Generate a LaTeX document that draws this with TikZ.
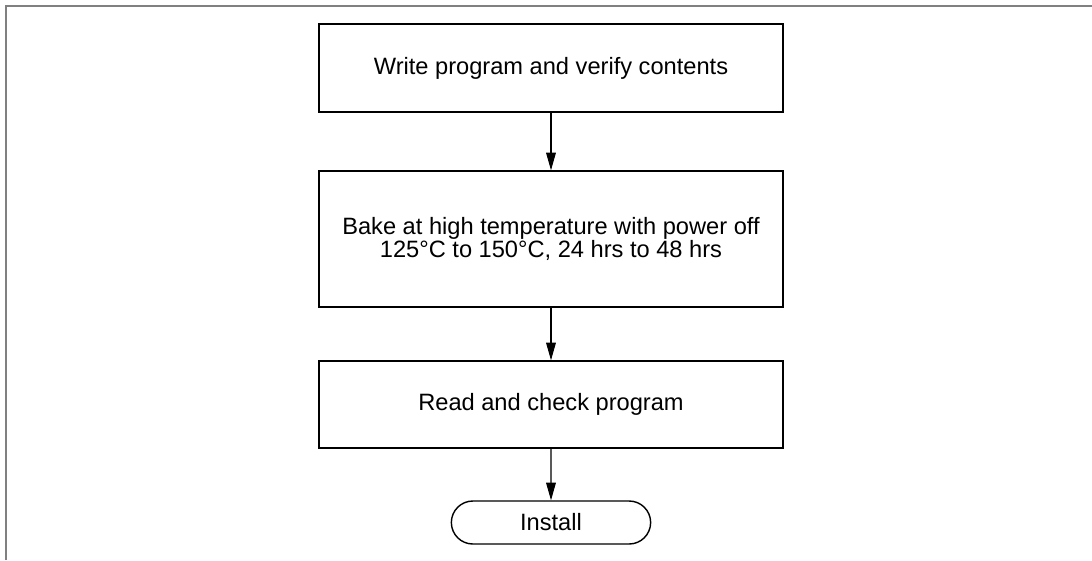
\documentclass[tikz,border=0pt]{standalone}
\usepackage{fontspec}
\setmainfont{Liberation Sans}
\usetikzlibrary{arrows.meta, shapes.misc}

\begin{document}
\begin{tikzpicture}[x=0.2mm,y=-0.2mm,>={Triangle[length=10pt,width=5.5pt]},
   stepbox/.style={draw,line width=0.8pt,minimum width=92.8mm,align=center,
     font=\fontsize{13.45}{13.1}\selectfont},
   endbox/.style={rounded rectangle,draw,line width=0.8pt,minimum width=42.2mm,
     minimum height=8.6mm,font=\fontsize{13.45}{13.1}\selectfont}]
  \useasboundingbox (0,0) rectangle (1092,560);
  % outer frame (only top and left edges show)
  \draw[gray,line width=1.2pt] (6,560) -- (6,6) -- (1092,6);
  % process steps
  \node[stepbox,minimum height=17.6mm] (write) at (551,68) {Write program and verify contents};
  \node[stepbox,minimum height=27.2mm] (bake) at (551,239)
    {Bake at high temperature with power off\\125°C to 150°C, 24 hrs to 48 hrs};
  \node[stepbox,minimum height=17.4mm] (check) at (551,404.5) {Read and check program};
  % terminator
  \node[endbox] (install) at (551,522.5) {Install};
  % flow
  \draw[->,line width=0.6pt] (write) -- (bake);
  \draw[->,line width=0.6pt] (bake) -- (check);
  \draw[->,line width=0.6pt] (check) -- (install);
\end{tikzpicture}
\end{document}
